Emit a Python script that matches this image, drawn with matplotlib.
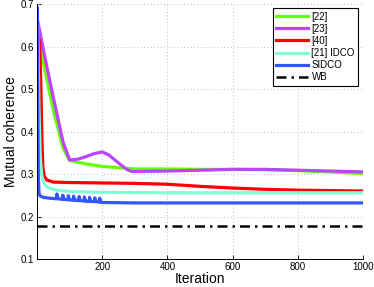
import matplotlib
matplotlib.use("Agg")
import matplotlib.pyplot as plt
import numpy as np

plt.rcParams['font.family'] = ['Liberation Sans', 'DejaVu Sans']

# ---- data ----
it_22 = [1, 20, 50, 80, 100, 150, 200, 300, 400, 500, 600, 700, 800, 900, 1000]
v_22 = [0.63, 0.56, 0.45, 0.36, 0.332, 0.324, 0.318, 0.312, 0.312, 0.311, 0.311, 0.310, 0.308, 0.305, 0.301]

it_23 = [1, 20, 50, 80, 100, 125, 150, 175, 200, 220, 250, 275, 290, 400, 500, 600, 700, 800, 900, 1000]
v_23 = [0.665, 0.59, 0.48, 0.375, 0.333, 0.335, 0.341, 0.348, 0.352, 0.345, 0.326, 0.311, 0.306, 0.307, 0.309, 0.311, 0.311, 0.309, 0.307, 0.305]

it_40 = [1, 8, 12, 15, 18, 22, 30, 50, 100, 200, 300, 400, 500, 600, 700, 800, 900, 1000]
v_40 = [0.63, 0.61, 0.50, 0.38, 0.315, 0.295, 0.286, 0.281, 0.280, 0.279, 0.278, 0.276, 0.271, 0.267, 0.264, 0.262, 0.261, 0.260]

it_21 = [1, 3, 6, 10, 14, 18, 24, 30, 45, 60, 100, 200, 400, 600, 800, 1000]
v_21 = [0.70, 0.60, 0.45, 0.34, 0.30, 0.285, 0.275, 0.270, 0.265, 0.262, 0.259, 0.257, 0.256, 0.256, 0.256, 0.256]

it_sidco = [1, 2, 4, 6, 10, 20, 40, 55, 100, 150, 195, 200, 300, 500, 700, 1000]
v_sidco = [0.69, 0.50, 0.30, 0.255, 0.248, 0.245, 0.243, 0.242, 0.239, 0.236, 0.234, 0.233, 0.232, 0.232, 0.232, 0.232]
spike_it = [61, 79, 96, 112, 129, 145, 161, 177, 192]
spike_peak = [0.253, 0.250, 0.249, 0.248, 0.247, 0.246, 0.245, 0.244, 0.243]

wb_value = 0.178

labels = ['[22]', '[23]', '[40]', '[21] IDCO', 'SIDCO', 'WB']
colors = ['#66ff00', '#bb44ff', '#ff0000', '#7fffd9', '#3355ff', 'black']

# build SIDCO series with the small spikes
base_x = np.array(it_sidco, dtype=float)
base_y = np.array(v_sidco, dtype=float)
pts = list(zip(it_sidco, v_sidco))
for s, p in zip(spike_it, spike_peak):
    b = np.interp(s, base_x, base_y)
    pts += [(s - 0.5, b), (s, p), (s + 2, b + (p - b) * 0.4), (s + 5, b)]
pts.sort()
sx = [a for a, _ in pts]
sy = [b for _, b in pts]

fig = plt.figure(figsize=(3.74, 2.87), dpi=100)
ax = fig.add_axes([0.099, 0.0976, 0.872, 0.888])

lw = 2.3
ax.plot(it_22, v_22, color=colors[0], lw=lw, label=labels[0])
ax.plot(it_23, v_23, color=colors[1], lw=lw, label=labels[1])
ax.plot(it_40, v_40, color=colors[2], lw=lw, label=labels[2])
ax.plot(it_21, v_21, color=colors[3], lw=lw, label=labels[3])
ax.plot(sx, sy, color=colors[4], lw=lw, label=labels[4])
ax.plot([0, 1000], [wb_value, wb_value], color=colors[5], lw=1.8,
        linestyle=(0, (4, 2, 1, 2)), label=labels[5])

ax.set_xlim(0, 1000)
ax.set_ylim(0.1, 0.7)
ax.set_xticks([200, 400, 600, 800, 1000])
ax.set_yticks([0.1, 0.2, 0.3, 0.4, 0.5, 0.6, 0.7])
ax.set_yticklabels(['0.1', '0.2', '0.3', '0.4', '0.5', '0.6', '0.7'])
ax.tick_params(direction='in', labelsize=7, length=3, width=0.6, pad=2)
ax.grid(True, linestyle=(0, (1, 3)), color='#aaaaaa', linewidth=0.6)
for sp in ['top', 'right']:
    ax.spines[sp].set_visible(False)
for sp in ['left', 'bottom']:
    ax.spines[sp].set_linewidth(0.7)

ax.set_xlabel('Iteration', fontsize=10, labelpad=0)
ax.set_ylabel('Mutual coherence', fontsize=10, labelpad=2)

leg = ax.legend(loc='upper right', bbox_to_anchor=(0.985, 0.984), borderaxespad=0,
                fontsize=7, handlelength=3.2, labelspacing=0.22, borderpad=0.35,
                handletextpad=0.4, fancybox=False, framealpha=1)
leg.get_frame().set_edgecolor('black')
leg.get_frame().set_linewidth(0.8)

fig.savefig('out.png', dpi=100)
